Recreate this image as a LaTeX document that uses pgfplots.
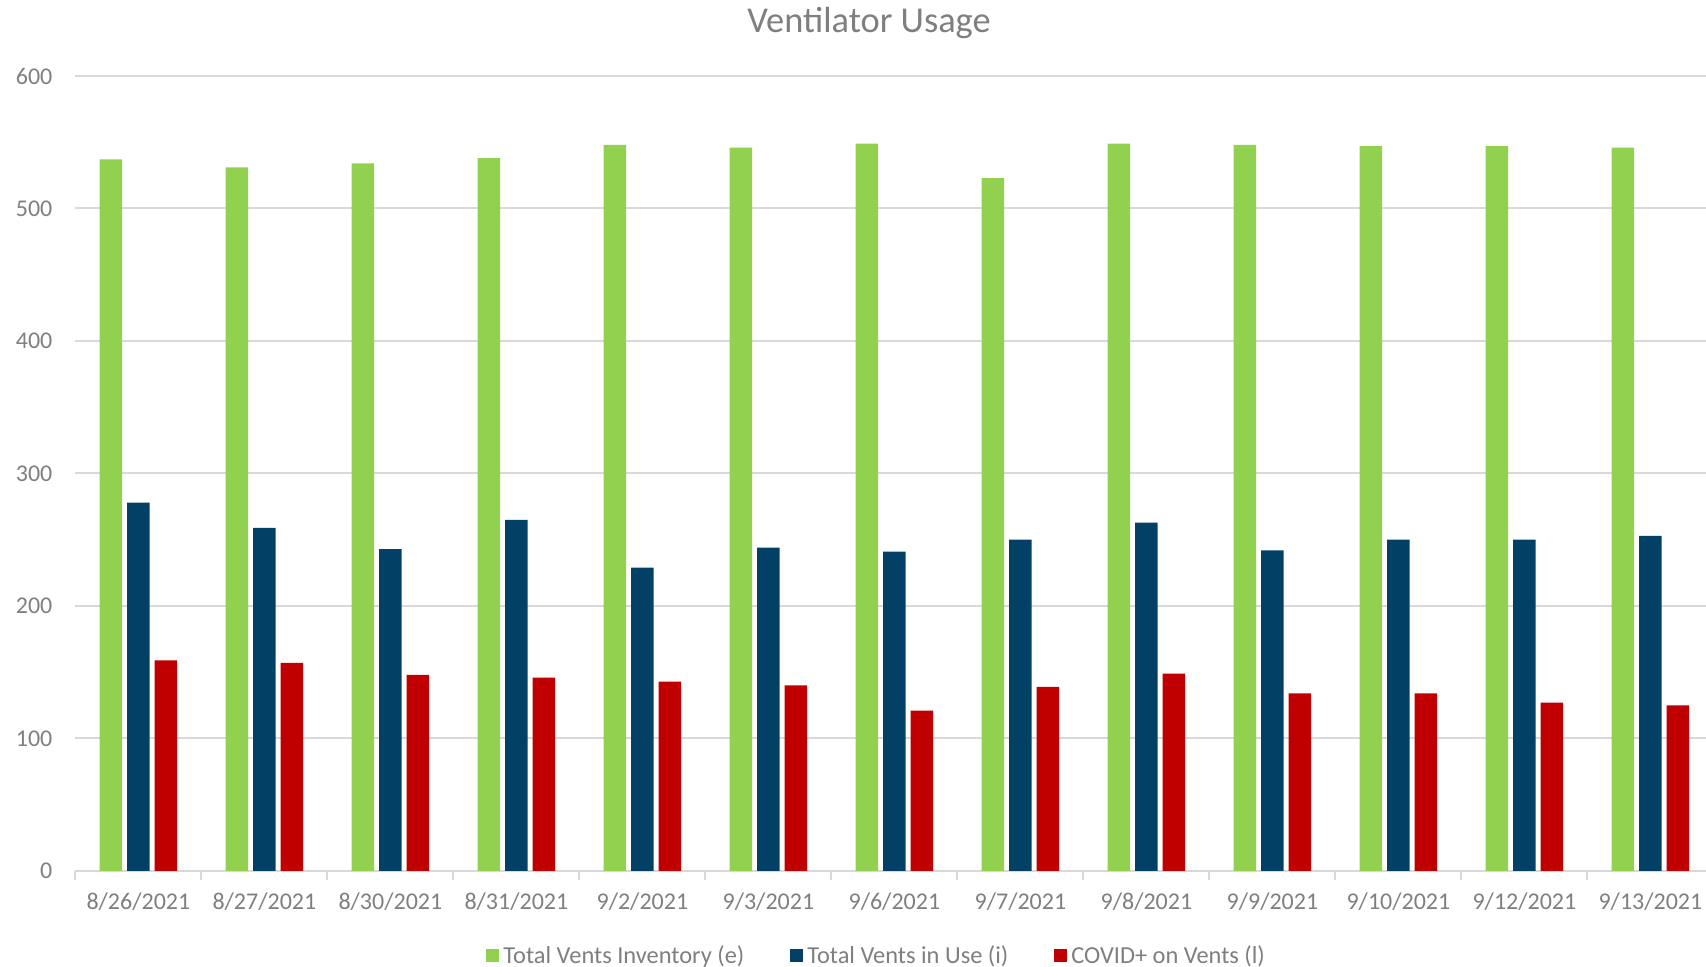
\documentclass[border=0pt]{standalone}
\usepackage{fontspec}
\setmainfont{Carlito}
\usepackage{pgfplots}
\pgfplotsset{compat=1.18}
\definecolor{cgreen}{HTML}{92D050}
\definecolor{cblue}{HTML}{034066}
\definecolor{cred}{HTML}{C00000}
\definecolor{ctext}{HTML}{7F7F7F}
\definecolor{cgrid}{HTML}{D9D9D9}
\begin{document}
\begin{tikzpicture}[x=1pt,y=1pt]
\useasboundingbox (0,0) rectangle (853,483.5);
\begin{axis}[
  at={(37.7pt,48pt)}, anchor=south west,
  scale only axis, width=819pt, height=397.5pt,
  xmin=-0.5, xmax=12.5, ymin=0, ymax=600, enlargelimits=false,
  ybar=2.5pt, bar width=11.25pt,
  axis x line*=bottom, axis y line*=left,
  x axis line style={-, draw=cgrid, line width=1pt},
  y axis line style={draw=none},
  ytick={0,100,...,600},
  ymajorgrids, grid style={cgrid, line width=1pt},
  xtick={0,...,12},
  xticklabels={8/26/2021,8/27/2021,8/30/2021,8/31/2021,9/2/2021,9/3/2021,9/6/2021,9/7/2021,9/8/2021,9/9/2021,9/10/2021,9/12/2021,9/13/2021},
  minor xtick={-0.5,0.5,...,12.5},
  tick align=outside, major tick length=0pt, minor tick length=4.5pt,
  minor x tick style={draw=cgrid, line width=1pt},
  major tick style={draw=none},
  /pgf/number format/assume math mode=true,
  ticklabel style={font=\fontsize{12}{14}\selectfont, text=ctext},
  yticklabel style={xshift=-8pt},
  xticklabel style={yshift=-7.5pt},
  title={Ventilator Usage},
  title style={at={(0.4845,1.0515)}, anchor=center, yshift=0pt, font=\fontsize{18.2}{21}\selectfont, text=ctext},
  legend style={at={(0.4898,-0.1065)}, anchor=center, legend columns=-1, draw=none,
    font=\fontsize{12.2}{14}\selectfont, text=ctext,
    /tikz/every even column/.append style={column sep=21pt}},
  legend image code/.code={\fill[#1] (-0.5pt,-3.2pt) rectangle (6pt,3.2pt);},
]
\addplot[fill=cgreen, draw=none] coordinates {(0,537) (1,531) (2,534) (3,538) (4,548) (5,546) (6,549) (7,523) (8,549) (9,548) (10,547) (11,547) (12,546)};
\addplot[fill=cblue, draw=none] coordinates {(0,278) (1,259) (2,243) (3,265) (4,229) (5,244) (6,241) (7,250) (8,263) (9,242) (10,250) (11,250) (12,253)};
\addplot[fill=cred, draw=none] coordinates {(0,159) (1,157) (2,148) (3,146) (4,143) (5,140) (6,121) (7,139) (8,149) (9,134) (10,134) (11,127) (12,125)};
\legend{Total Vents Inventory (e), Total Vents in Use (i), COVID+ on Vents (l)}
\end{axis}
\end{tikzpicture}
\end{document}
